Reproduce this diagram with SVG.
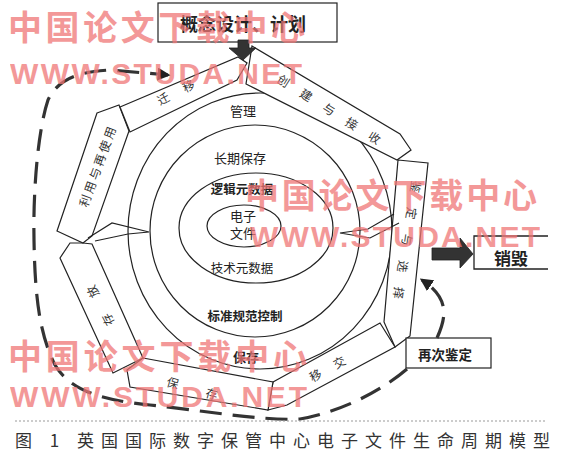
<svg xmlns="http://www.w3.org/2000/svg" width="570" height="460" viewBox="0 0 570 460">
<style>
.box{fill:#fff;stroke:#222;stroke-width:1.2;stroke-linejoin:miter}
.ring{fill:none;stroke:#222;stroke-width:1.2}
.t{font-family:"Noto Sans CJK SC",sans-serif;fill:#222;text-anchor:middle;dominant-baseline:central}
.bl{font-size:12px;fill:#333}
.rl{font-size:13px}
.b{font-weight:bold}
.dash{fill:none;stroke:#333;stroke-width:3.2;stroke-dasharray:22 11}
.thin{fill:none;stroke:#222;stroke-width:1.2}
.dark{fill:#333;stroke:#222;stroke-width:0.8}
.wmc{font-family:"Noto Sans CJK SC",sans-serif;font-weight:bold;font-size:34px;fill:#ef7676;opacity:.75}
.wml{font-family:"Liberation Sans",sans-serif;font-weight:bold;font-size:30px;fill:#ef7676;opacity:.75}
</style>
<defs>
<marker id="ah" viewBox="0 0 10 10" refX="8" refY="5" markerWidth="13" markerHeight="13" markerUnits="userSpaceOnUse" orient="auto"><path d="M0,0 L10,5 L0,10 z" fill="#222"/></marker>
</defs>
<rect width="570" height="460" fill="#fff"/>

<g id="rings">
<ellipse class="ring" cx="260" cy="231" rx="132" ry="138"/>
<ellipse class="ring" cx="255" cy="231" rx="105" ry="106"/>
<ellipse class="ring" cx="256" cy="228" rx="77" ry="55"/>
<ellipse class="ring" cx="244" cy="226" rx="37" ry="21"/>
<text class="t rl" x="243" y="110">管理</text>
<text class="t rl" x="240" y="157">长期保存</text>
<text class="t b" font-size="12.5" x="242" y="188">逻辑元数据</text>
<text class="t rl" x="243" y="215">电子</text>
<text class="t rl" x="243" y="232">文件</text>
<text class="t" font-size="12.5" fill="#444" x="242" y="267">技术元数据</text>
<text class="t b" font-size="12.5" x="245" y="315">标准规范控制</text>
<text class="t b rl" x="246" y="356">保存</text>
</g>

<g id="n-plan">
<rect class="box" x="158" y="3" width="179" height="39" stroke-width="1.4"/>
<text class="t b" font-size="18" x="243" y="23">概念设计、计划</text>
</g>

<g id="n-create">
<polygon class="box" points="252,46 400,134 411,150 397,160 246,84 249,65"/>
<text class="t bl" transform="translate(329.5,108.5) rotate(32)" x="-53.6 -26.8 0 26.8 53.6" y="0">创建与接收</text>
</g>

<g id="n-appraise">
<polygon class="box" points="398,160 428,163 410,336 395,347 384,322"/>
<text class="t bl" transform="translate(408,240) rotate(99)" x="-53.6 -26.8 0 26.8 53.6" y="0">鉴定与选择</text>
</g>

<g id="n-transfer">
<polygon class="box" points="273,382 380,323 395,347 287,405 268,410"/>
<text class="t bl" transform="translate(327,368) rotate(-29)" x="-13.5 13.5" y="0">移交</text>
</g>

<g id="n-preserve">
<polygon class="box" points="143,358 273,382 268,410 130,387 127,370"/>
<text class="t bl" transform="translate(192.5,387.5) rotate(15.8)" x="-20.3 20.3" y="0">保存</text>
</g>

<g id="n-store">
<polygon class="box" points="60,258 70,243 83,243 92,244 143,358 113,373"/>
<text class="t bl" transform="translate(99.5,306) rotate(-118)" x="-15.9 15.9" y="0">存放</text>
</g>

<g id="n-reuse">
<polygon class="box" points="97,113 119,105 129,131 92,236 83,243 57,231"/>
<text class="t bl" transform="translate(96.5,166.5) rotate(-70)" x="-36.2 -21.7 -7.2 7.2 21.7 36.2" y="0">利用与再使用</text>
</g>

<g id="n-migrate">
<polygon class="box" points="120,107 238,57 247,63 237,80 130,132"/>
<text class="t bl" transform="translate(175.5,91.5) rotate(-27)" x="-14.1 14.1" y="0">迁移</text>
</g>

<g id="n-destroy">
<path d="M548,236 L474,236 L474,269 L548,269" fill="#fff" stroke="#222" stroke-width="1.3"/>
<text class="t b" font-size="17" x="511" y="257">销毁</text>
</g>

<g id="n-reappraise">
<rect class="box" x="406" y="338" width="85" height="30" stroke-width="1.3"/>
<text class="t b" font-size="13.5" x="445" y="354">再次鉴定</text>
</g>

<g id="connectors">
<polygon class="dark" points="238,40 249,40 249,48 256,48 243,60 229,48 238,48"/>
<polygon class="dark" points="432,248 460,248 460,238 473,254 460,268 460,260 432,260"/>
<path class="thin" d="M88,238 L112,223 L149,232 L128,234 L95,241"/>
<path class="thin" d="M394,214 L368,229 L340,233 L370,238 L399,223"/>
<path class="dash" d="M437,338 C447,316 449,298 422,280" stroke-dasharray="16 9" marker-end="url(#ah)"/>
<path class="dash" d="M407,369 C380,392 340,412 300,419 C260,421 200,410 150,405 C100,400 70,390 55,365 C40,335 35,300 34,240 C33,190 38,130 48,100 C58,80 75,72 110,70 L168,75" marker-end="url(#ah)"/>
</g>

<g id="watermark">
<text class="wmc" x="8" y="40" textLength="297" lengthAdjust="spacing">中国论文下载中心</text>
<text class="wml" x="10" y="84" textLength="292" lengthAdjust="spacing">WWW.STUDA.NET</text>
<text class="wmc" x="245" y="208" textLength="292" lengthAdjust="spacing">中国论文下载中心</text>
<text class="wml" x="250" y="247" textLength="290" lengthAdjust="spacing">WWW.STUDA.NET</text>
<text class="wmc" x="8" y="369" textLength="299" lengthAdjust="spacing">中国论文下载中心</text>
<text class="wml" x="10" y="407" textLength="297" lengthAdjust="spacing">WWW.STUDA.NET</text>
</g>

<g id="caption">
<line x1="15" y1="421" x2="545" y2="421" stroke="#999" stroke-width="1" stroke-dasharray="2 2"/>
<text x="15" y="447" font-family="Noto Sans CJK SC, sans-serif" font-size="17" fill="#333" textLength="535" lengthAdjust="spacing">图 1 英国国际数字保管中心电子文件生命周期模型</text>
</g>
</svg>
